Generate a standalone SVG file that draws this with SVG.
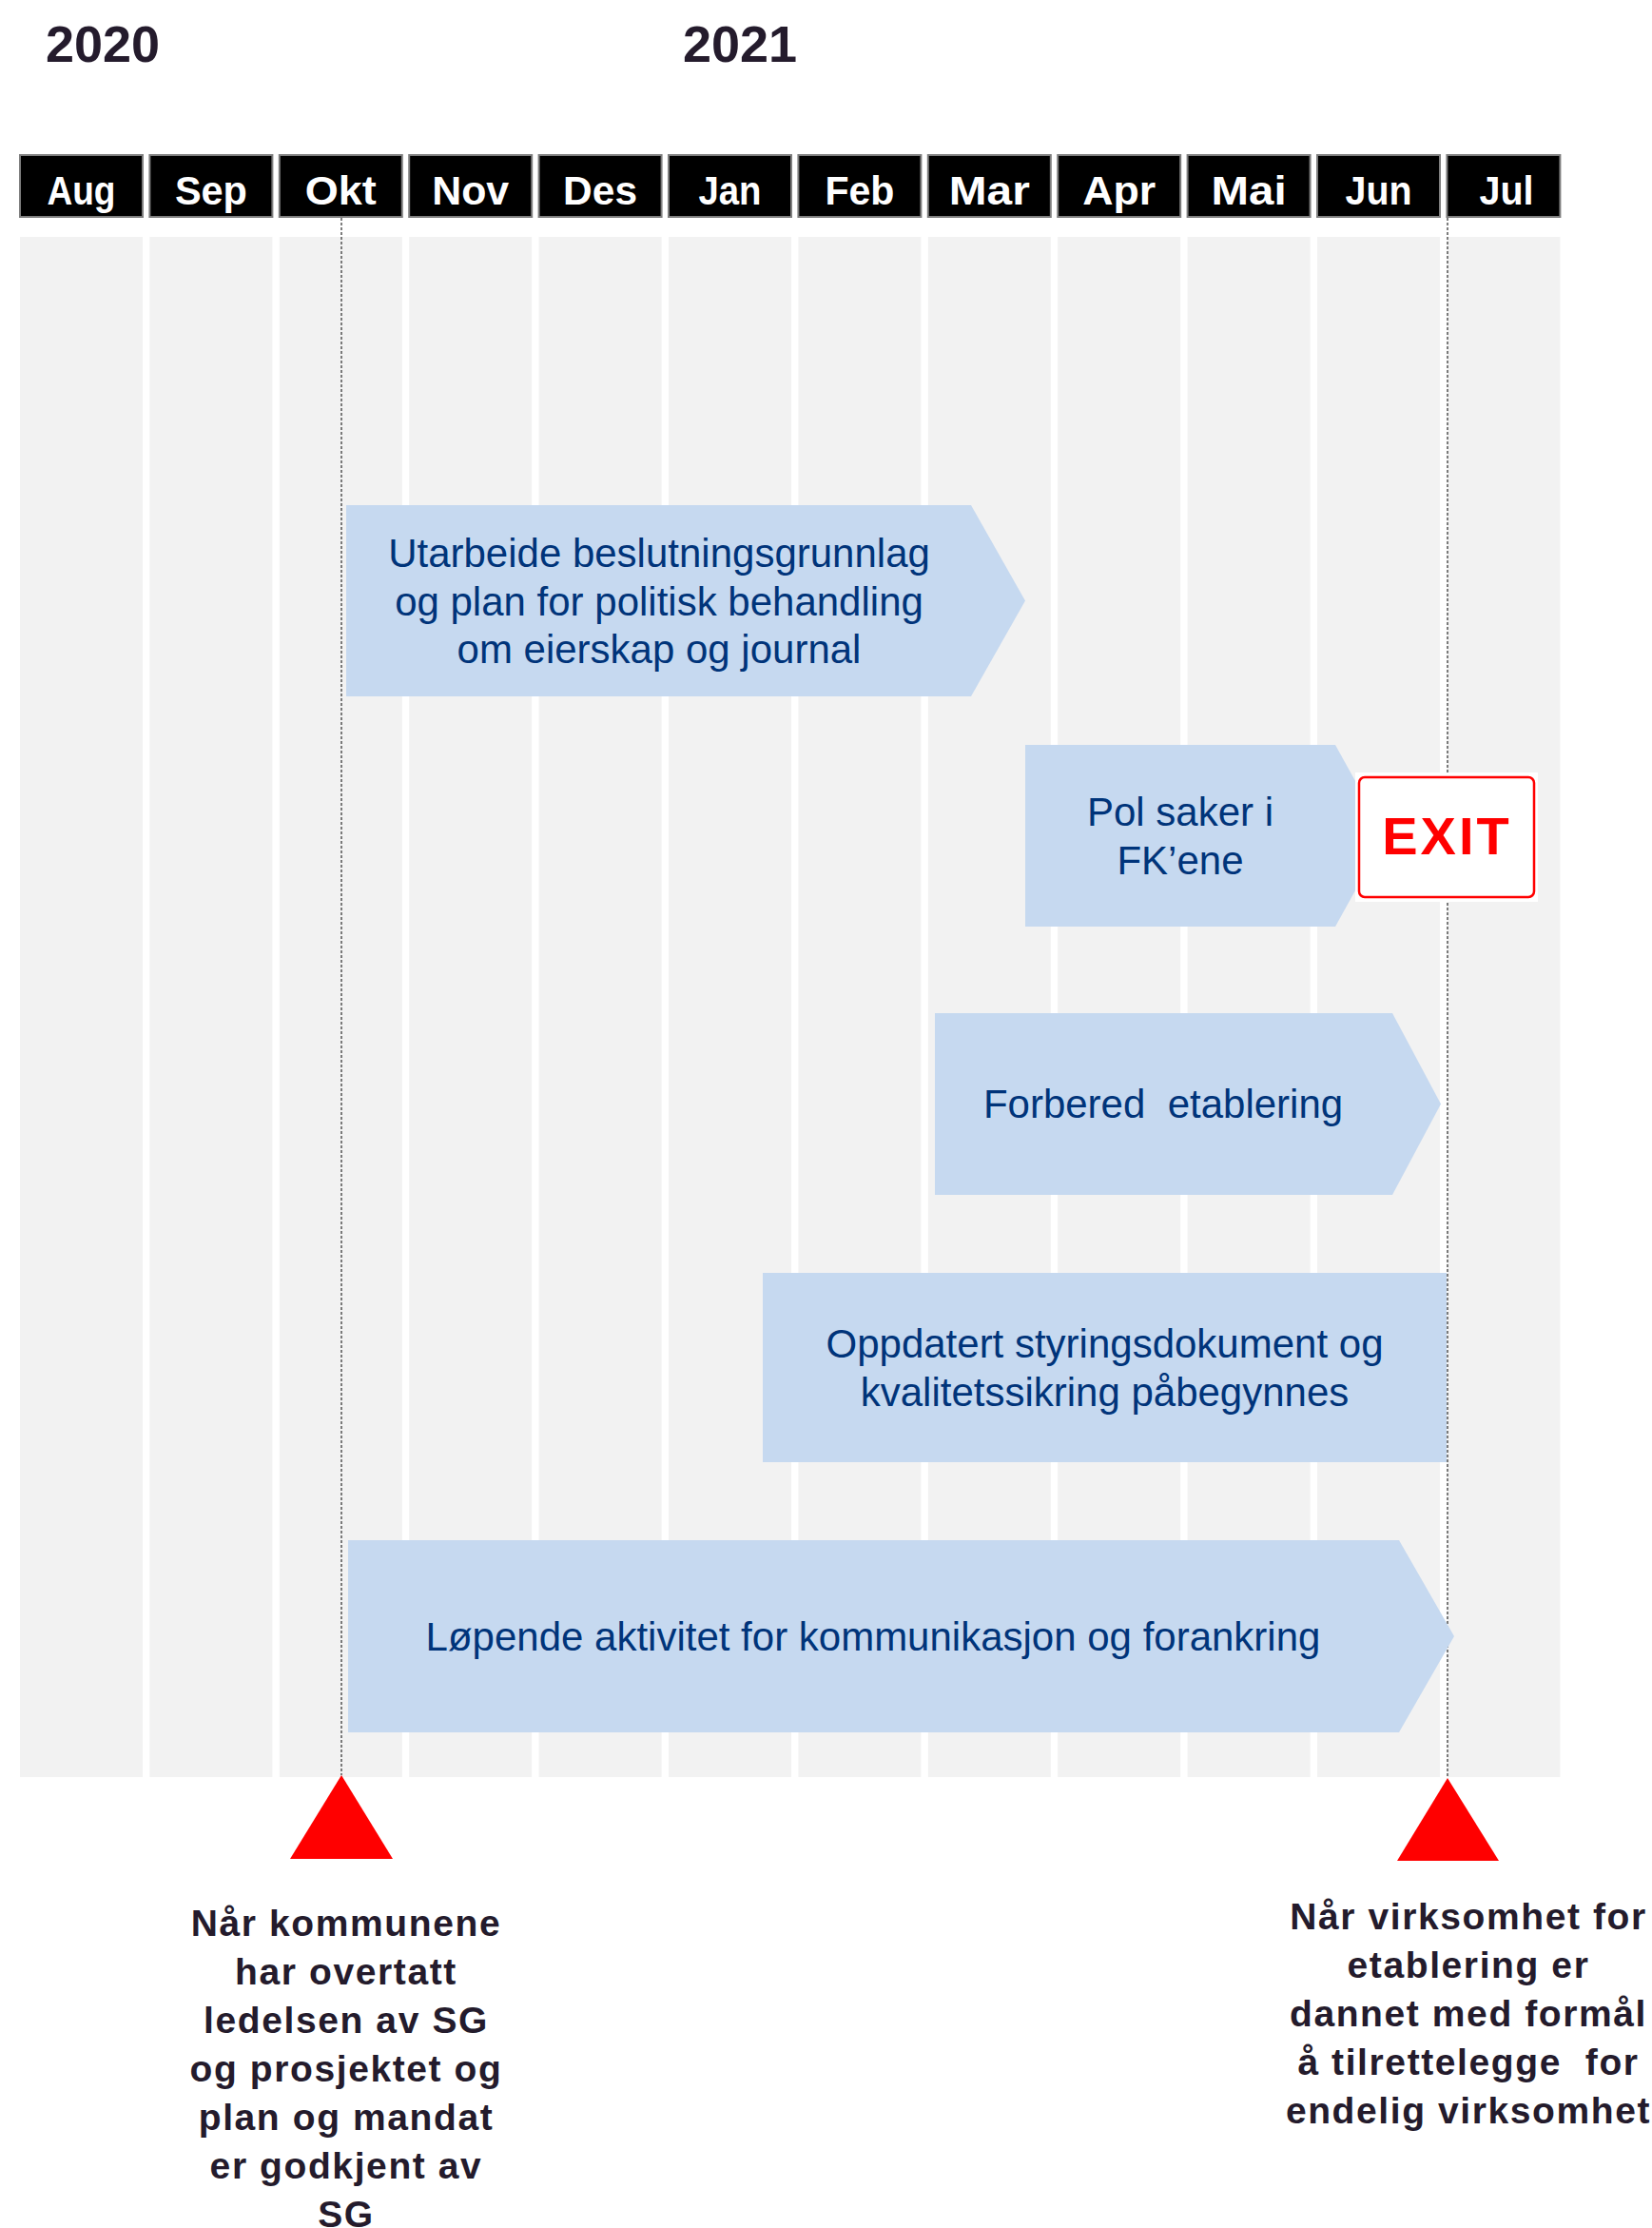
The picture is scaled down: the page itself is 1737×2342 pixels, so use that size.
<svg xmlns="http://www.w3.org/2000/svg" width="1737" height="2342" viewBox="0 0 1737 2342">
  <style>
    .year { font-family: "Liberation Sans", Arial, sans-serif; font-weight: bold; font-size: 54px; fill: #241b2c; }
    .col { fill: #f2f2f2; }
    .head { fill: #000000; stroke: #7f7f7f; stroke-width: 2; }
    .month { font-family: "Liberation Sans", Arial, sans-serif; font-weight: bold; font-size: 42px; fill: #ffffff; text-anchor: middle; }
    .bar { fill: #c6d9f0; }
    .bar-text { font-family: "Liberation Sans", Arial, sans-serif; font-size: 42px; fill: #00347a; text-anchor: middle; }
    .guide { stroke: #3a3a3a; stroke-width: 1.3; stroke-dasharray: 3 2; fill: none; }
    .milestone { fill: #ff0000; }
    .note { font-family: "Liberation Sans", Arial, sans-serif; font-weight: bold; font-size: 39px; letter-spacing: 1.6px; fill: #241b2c; text-anchor: middle; }
    .exit-text { font-family: "Liberation Sans", Arial, sans-serif; font-weight: bold; font-size: 56px; letter-spacing: 3px; fill: #ff0000; text-anchor: middle; }
  </style>

  <rect width="1737" height="2342" fill="#ffffff"/>

  <!-- Year labels -->
  <g id="years">
    <text class="year" x="48" y="65">2020</text>
    <text class="year" x="718" y="65">2021</text>
  </g>

  <!-- Month background columns -->
  <g id="columns">
    <rect class="col" x="21" y="249" width="129" height="1619"/>
    <rect class="col" x="157.4" y="249" width="129" height="1619"/>
    <rect class="col" x="293.8" y="249" width="129" height="1619"/>
    <rect class="col" x="430.2" y="249" width="129" height="1619"/>
    <rect class="col" x="566.6" y="249" width="129" height="1619"/>
    <rect class="col" x="703" y="249" width="129" height="1619"/>
    <rect class="col" x="839.4" y="249" width="129" height="1619"/>
    <rect class="col" x="975.8" y="249" width="129" height="1619"/>
    <rect class="col" x="1112.2" y="249" width="129" height="1619"/>
    <rect class="col" x="1248.6" y="249" width="129" height="1619"/>
    <rect class="col" x="1385" y="249" width="129" height="1619"/>
    <rect class="col" x="1521.4" y="249" width="119" height="1619"/>
  </g>

  <!-- Month header -->
  <g id="months">
    <rect class="head" x="21" y="163" width="129" height="65"/>
    <rect class="head" x="157.4" y="163" width="129" height="65"/>
    <rect class="head" x="293.8" y="163" width="129" height="65"/>
    <rect class="head" x="430.2" y="163" width="129" height="65"/>
    <rect class="head" x="566.6" y="163" width="129" height="65"/>
    <rect class="head" x="703" y="163" width="129" height="65"/>
    <rect class="head" x="839.4" y="163" width="129" height="65"/>
    <rect class="head" x="975.8" y="163" width="129" height="65"/>
    <rect class="head" x="1112.2" y="163" width="129" height="65"/>
    <rect class="head" x="1248.6" y="163" width="129" height="65"/>
    <rect class="head" x="1385" y="163" width="129" height="65"/>
    <rect class="head" x="1521.4" y="163" width="119" height="65"/>
    <text class="month" x="85.5" y="215" textLength="72" lengthAdjust="spacingAndGlyphs">Aug</text>
    <text class="month" x="221.9" y="215" textLength="76" lengthAdjust="spacingAndGlyphs">Sep</text>
    <text class="month" x="358.3" y="215" textLength="75" lengthAdjust="spacingAndGlyphs">Okt</text>
    <text class="month" x="494.7" y="215" textLength="81" lengthAdjust="spacingAndGlyphs">Nov</text>
    <text class="month" x="631.1" y="215" textLength="78" lengthAdjust="spacingAndGlyphs">Des</text>
    <text class="month" x="767.5" y="215" textLength="66" lengthAdjust="spacingAndGlyphs">Jan</text>
    <text class="month" x="903.9" y="215" textLength="73" lengthAdjust="spacingAndGlyphs">Feb</text>
    <text class="month" x="1040.3" y="215" textLength="85" lengthAdjust="spacingAndGlyphs">Mar</text>
    <text class="month" x="1176.7" y="215" textLength="77" lengthAdjust="spacingAndGlyphs">Apr</text>
    <text class="month" x="1313.1" y="215" textLength="79" lengthAdjust="spacingAndGlyphs">Mai</text>
    <text class="month" x="1449.5" y="215" textLength="70" lengthAdjust="spacingAndGlyphs">Jun</text>
    <text class="month" x="1584" y="215" textLength="57" lengthAdjust="spacingAndGlyphs">Jul</text>
  </g>

  <!-- Milestone guide lines -->
  <g id="connectors">
    <line class="guide" x1="359" y1="229" x2="359" y2="1866"/>
    <line class="guide" x1="1522" y1="229" x2="1522" y2="1869"/>
  </g>

  <!-- Activity bars -->
  <g id="bar-utarbeide">
    <path class="bar" d="M364,531 H1021 L1078,631.5 L1021,732 H364 Z"/>
    <text class="bar-text" x="693" y="596">Utarbeide beslutningsgrunnlag</text>
    <text class="bar-text" x="693" y="647">og plan for politisk behandling</text>
    <text class="bar-text" x="693" y="697">om eierskap og journal</text>
  </g>

  <g id="bar-pol-saker">
    <path class="bar" d="M1078,783 H1404 L1457,878.5 L1404,974 H1078 Z"/>
    <text class="bar-text" x="1241" y="868">Pol saker i</text>
    <text class="bar-text" x="1241" y="919">FK’ene</text>
  </g>

  <g id="exit">
    <rect x="1425" y="812" width="192" height="136" fill="#ffffff"/>
    <rect x="1429" y="817" width="184" height="126" rx="6" fill="#ffffff" stroke="#ff0000" stroke-width="2.5"/>
    <text class="exit-text" x="1521.5" y="898">EXIT</text>
  </g>

  <g id="bar-forbered">
    <path class="bar" d="M983,1065 H1464 L1515,1160.5 L1464,1256 H983 Z"/>
    <text class="bar-text" x="1223" y="1175" xml:space="preserve">Forbered  etablering</text>
  </g>

  <g id="bar-styringsdokument">
    <rect class="bar" x="802" y="1338" width="719" height="199"/>
    <text class="bar-text" x="1161.5" y="1427">Oppdatert styringsdokument og</text>
    <text class="bar-text" x="1161.5" y="1478">kvalitetssikring påbegynnes</text>
  </g>

  <g id="bar-kommunikasjon">
    <path class="bar" d="M366,1619 H1471 L1529,1720 L1471,1821 H366 Z"/>
    <text class="bar-text" x="918" y="1735">Løpende aktivitet for kommunikasjon og forankring</text>
  </g>

  <!-- Milestones -->
  <g id="milestone-start">
    <polygon class="milestone" points="359,1866 305,1954 413,1954"/>
    <text class="note" x="364" y="2035">Når kommunene</text>
    <text class="note" x="364" y="2086">har overtatt</text>
    <text class="note" x="364" y="2137">ledelsen av SG</text>
    <text class="note" x="364" y="2188">og prosjektet og</text>
    <text class="note" x="364" y="2239">plan og mandat</text>
    <text class="note" x="364" y="2290">er godkjent av</text>
    <text class="note" x="364" y="2341">SG</text>
  </g>

  <g id="milestone-end">
    <polygon class="milestone" points="1522,1869 1469,1956 1576,1956"/>
    <text class="note" x="1544" y="2028">Når virksomhet for</text>
    <text class="note" x="1544" y="2079">etablering er</text>
    <text class="note" x="1544" y="2130">dannet med formål</text>
    <text class="note" x="1544" y="2181" xml:space="preserve">å tilrettelegge  for</text>
    <text class="note" x="1544" y="2232">endelig virksomhet</text>
  </g>
</svg>
